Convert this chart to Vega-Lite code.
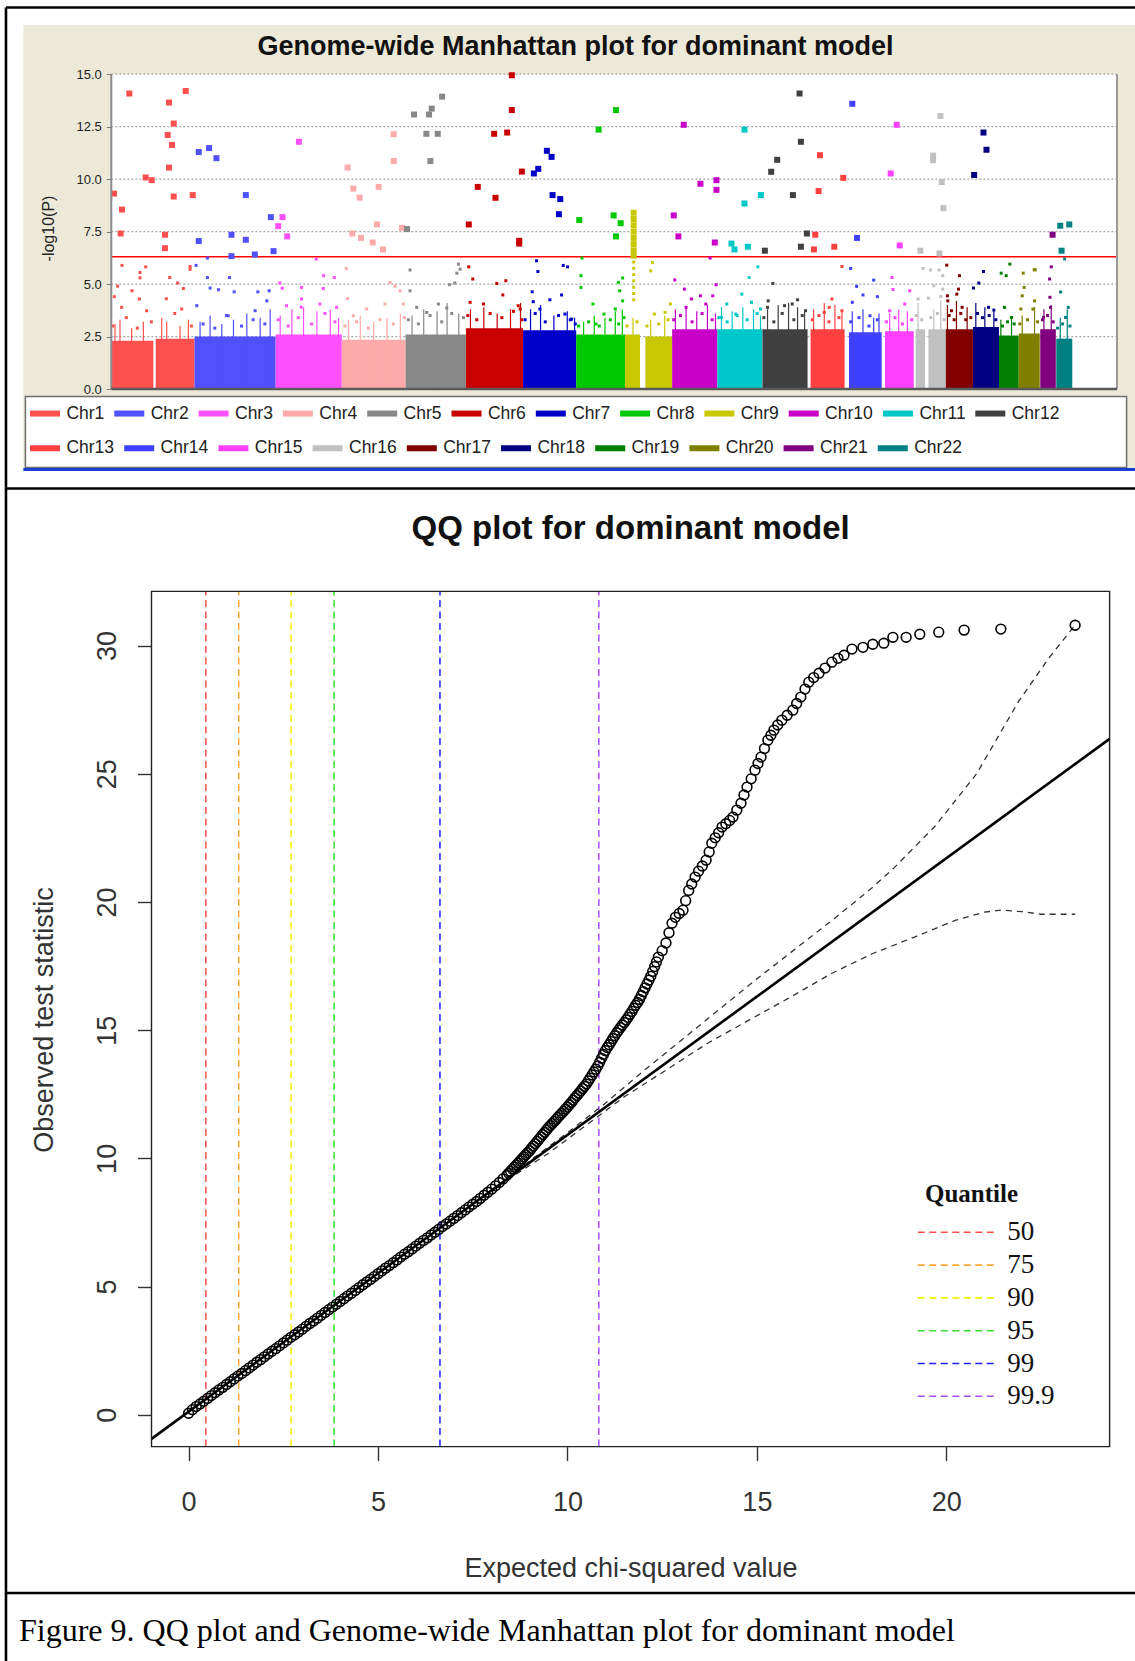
{
"$schema": "https://vega.github.io/schema/vega-lite/v6.json",
"width": 1135,
"height": 1661,
"autosize": {"type": "none"},
"padding": 0,
"background": "#FFFFFF",
"config": {"view": {"stroke": null}},
"resolve": {"scale": {"x": "independent", "y": "independent", "color": "independent"}, "axis": {"x": "independent", "y": "independent"}, "legend": {"color": "independent"}},
"datasets": {
"seg": [
{"chr":"Chr1","s":0,"e":126,"h":2.3},{"chr":"Chr1","s":133,"e":249.3,"h":2.4},
{"chr":"Chr2","s":249.3,"e":492.4,"h":2.5},{"chr":"Chr3","s":492.4,"e":690.4,"h":2.6},
{"chr":"Chr4","s":690.4,"e":881.6,"h":2.35},{"chr":"Chr5","s":881.6,"e":1062.5,"h":2.6},
{"chr":"Chr6","s":1062.5,"e":1233.6,"h":2.9},{"chr":"Chr7","s":1233.6,"e":1392.8,"h":2.8},
{"chr":"Chr8","s":1392.8,"e":1539.1,"h":2.6},{"chr":"Chr9","s":1539.1,"e":1584,"h":2.6},
{"chr":"Chr9","s":1600,"e":1680.3,"h":2.5},{"chr":"Chr10","s":1680.3,"e":1815.8,"h":2.85},
{"chr":"Chr11","s":1815.8,"e":1950.8,"h":2.85},{"chr":"Chr12","s":1950.8,"e":2086,"h":2.85},
{"chr":"Chr13","s":2095,"e":2197,"h":2.85},{"chr":"Chr14","s":2210,"e":2308,"h":2.7},
{"chr":"Chr15","s":2318,"e":2404,"h":2.75},{"chr":"Chr16","s":2409.8,"e":2438,"h":2.85},
{"chr":"Chr16","s":2448,"e":2500.2,"h":2.85},{"chr":"Chr17","s":2500.2,"e":2581.4,"h":2.85},
{"chr":"Chr18","s":2581.4,"e":2659.5,"h":2.95},{"chr":"Chr19","s":2659.5,"e":2718.6,"h":2.55},
{"chr":"Chr20","s":2718.6,"e":2781.6,"h":2.65},{"chr":"Chr21","s":2783,"e":2829.7,"h":2.85},
{"chr":"Chr22","s":2831,"e":2879,"h":2.4}
],
"spk": [
{"chr":"Chr1","pos":11,"top":3.1},{"chr":"Chr1","pos":26,"top":3.3},{"chr":"Chr1","pos":61,"top":2.9},{"chr":"Chr1","pos":96,"top":3.2},{"chr":"Chr1","pos":151,"top":3.4},{"chr":"Chr1","pos":166,"top":3.2},{"chr":"Chr1","pos":206,"top":3.0},{"chr":"Chr1","pos":231,"top":3.3},
{"chr":"Chr2","pos":266,"top":3.2},{"chr":"Chr2","pos":296,"top":3.5},{"chr":"Chr2","pos":331,"top":3.1},{"chr":"Chr2","pos":366,"top":3.3},{"chr":"Chr2","pos":406,"top":3.6},{"chr":"Chr2","pos":446,"top":3.4},{"chr":"Chr2","pos":476,"top":3.8},
{"chr":"Chr3","pos":506,"top":3.5},{"chr":"Chr3","pos":541,"top":3.8},{"chr":"Chr3","pos":576,"top":3.9},{"chr":"Chr3","pos":616,"top":3.7},{"chr":"Chr3","pos":656,"top":3.8},{"chr":"Chr3","pos":681,"top":3.4},
{"chr":"Chr4","pos":711,"top":3.3},{"chr":"Chr4","pos":746,"top":3.5},{"chr":"Chr4","pos":786,"top":3.2},{"chr":"Chr4","pos":826,"top":3.4},{"chr":"Chr4","pos":866,"top":3.6},
{"chr":"Chr5","pos":901,"top":3.5},{"chr":"Chr5","pos":936,"top":3.8},{"chr":"Chr5","pos":976,"top":3.7},{"chr":"Chr5","pos":1006,"top":4.1},{"chr":"Chr5","pos":1041,"top":3.6},
{"chr":"Chr6","pos":1076,"top":3.8},{"chr":"Chr6","pos":1116,"top":3.9},{"chr":"Chr6","pos":1156,"top":3.6},{"chr":"Chr6","pos":1196,"top":3.8},{"chr":"Chr6","pos":1226,"top":4.1},
{"chr":"Chr7","pos":1256,"top":3.8},{"chr":"Chr7","pos":1286,"top":4.0},{"chr":"Chr7","pos":1326,"top":3.5},{"chr":"Chr7","pos":1366,"top":3.7},{"chr":"Chr7","pos":1388,"top":3.4},
{"chr":"Chr8","pos":1415,"top":3.2},{"chr":"Chr8","pos":1447,"top":3.5},{"chr":"Chr8","pos":1479,"top":3.4},{"chr":"Chr8","pos":1510,"top":3.7},{"chr":"Chr8","pos":1531,"top":3.8},
{"chr":"Chr9","pos":1563,"top":3.4},{"chr":"Chr9","pos":1616,"top":3.3},{"chr":"Chr9","pos":1658,"top":3.5},
{"chr":"Chr10","pos":1690,"top":3.8},{"chr":"Chr10","pos":1722,"top":3.9},{"chr":"Chr10","pos":1754,"top":3.7},{"chr":"Chr10","pos":1786,"top":4.0},{"chr":"Chr10","pos":1810,"top":3.6},
{"chr":"Chr11","pos":1828,"top":3.9},{"chr":"Chr11","pos":1860,"top":3.7},{"chr":"Chr11","pos":1892,"top":3.9},{"chr":"Chr11","pos":1924,"top":3.8},{"chr":"Chr11","pos":1945,"top":3.5},
{"chr":"Chr12","pos":1966,"top":3.8},{"chr":"Chr12","pos":1998,"top":4.0},{"chr":"Chr12","pos":2029,"top":4.1},{"chr":"Chr12","pos":2056,"top":3.9},{"chr":"Chr12","pos":2077,"top":3.7},
{"chr":"Chr13","pos":2104,"top":3.8},{"chr":"Chr13","pos":2136,"top":4.1},{"chr":"Chr13","pos":2168,"top":4.0},{"chr":"Chr13","pos":2189,"top":3.7},
{"chr":"Chr14","pos":2220,"top":3.7},{"chr":"Chr14","pos":2252,"top":3.8},{"chr":"Chr14","pos":2284,"top":3.4},{"chr":"Chr14","pos":2300,"top":3.6},
{"chr":"Chr15","pos":2332,"top":3.6},{"chr":"Chr15","pos":2359,"top":3.8},{"chr":"Chr15","pos":2385,"top":3.7},
{"chr":"Chr16","pos":2417,"top":4.1},{"chr":"Chr16","pos":2464,"top":3.8},{"chr":"Chr16","pos":2485,"top":4.2},
{"chr":"Chr17","pos":2505,"top":4.0},{"chr":"Chr17","pos":2532,"top":4.2},{"chr":"Chr17","pos":2564,"top":3.9},
{"chr":"Chr18","pos":2590,"top":4.1},{"chr":"Chr18","pos":2617,"top":3.9},{"chr":"Chr18","pos":2644,"top":3.7},
{"chr":"Chr19","pos":2665,"top":3.3},{"chr":"Chr19","pos":2697,"top":3.4},
{"chr":"Chr20","pos":2729,"top":3.5},{"chr":"Chr20","pos":2766,"top":3.9},
{"chr":"Chr21","pos":2794,"top":3.8},{"chr":"Chr21","pos":2816,"top":4.0},
{"chr":"Chr22","pos":2843,"top":3.4},{"chr":"Chr22","pos":2864,"top":3.8}
],
"snp": [
{"chr":"Chr1","pos":8,"p":9.31},{"chr":"Chr1","pos":54,"p":14.08},{"chr":"Chr1","pos":32,"p":8.55},{"chr":"Chr1","pos":28,"p":7.41},{"chr":"Chr1","pos":103,"p":10.08},{"chr":"Chr1","pos":121,"p":9.95},{"chr":"Chr1","pos":173,"p":13.65},{"chr":"Chr1","pos":187,"p":12.65},{"chr":"Chr1","pos":169,"p":12.1},{"chr":"Chr1","pos":182,"p":11.63},{"chr":"Chr1","pos":173,"p":10.55},{"chr":"Chr1","pos":223,"p":14.2},{"chr":"Chr1","pos":187,"p":9.17},{"chr":"Chr1","pos":244,"p":9.24},{"chr":"Chr1","pos":161,"p":7.35},{"chr":"Chr1","pos":161,"p":6.71},
{"chr":"Chr2","pos":262,"p":11.29},{"chr":"Chr2","pos":293,"p":11.48},{"chr":"Chr2","pos":315,"p":11.0},{"chr":"Chr2","pos":262,"p":7.05},{"chr":"Chr2","pos":288,"p":6.24},{"chr":"Chr2","pos":360,"p":7.35},{"chr":"Chr2","pos":360,"p":6.33},{"chr":"Chr2","pos":403,"p":9.24},{"chr":"Chr2","pos":403,"p":7.11},{"chr":"Chr2","pos":430,"p":6.41},{"chr":"Chr2","pos":478,"p":8.19},{"chr":"Chr2","pos":486,"p":6.57},
{"chr":"Chr3","pos":562,"p":11.78},{"chr":"Chr3","pos":513,"p":8.19},{"chr":"Chr3","pos":500,"p":7.76},{"chr":"Chr3","pos":527,"p":7.27},{"chr":"Chr3","pos":614,"p":6.19},
{"chr":"Chr4","pos":708,"p":10.55},{"chr":"Chr4","pos":725,"p":9.55},{"chr":"Chr4","pos":744,"p":9.12},{"chr":"Chr4","pos":801,"p":9.63},{"chr":"Chr4","pos":846,"p":12.14},{"chr":"Chr4","pos":846,"p":10.86},{"chr":"Chr4","pos":722,"p":7.41},{"chr":"Chr4","pos":748,"p":7.2},{"chr":"Chr4","pos":783,"p":6.98},{"chr":"Chr4","pos":814,"p":6.65},{"chr":"Chr4","pos":796,"p":7.84},{"chr":"Chr4","pos":871,"p":7.68},
{"chr":"Chr5","pos":886,"p":7.62},{"chr":"Chr5","pos":907,"p":13.08},{"chr":"Chr5","pos":952,"p":13.08},{"chr":"Chr5","pos":960,"p":13.36},{"chr":"Chr5","pos":944,"p":12.16},{"chr":"Chr5","pos":978,"p":12.16},{"chr":"Chr5","pos":956,"p":10.86},{"chr":"Chr5","pos":991,"p":13.93},
{"chr":"Chr6","pos":1200,"p":14.95},{"chr":"Chr6","pos":1200,"p":13.29},{"chr":"Chr6","pos":1147,"p":12.16},{"chr":"Chr6","pos":1186,"p":12.22},{"chr":"Chr6","pos":1230,"p":10.36},{"chr":"Chr6","pos":1098,"p":9.63},{"chr":"Chr6","pos":1151,"p":9.11},{"chr":"Chr6","pos":1071,"p":7.84},{"chr":"Chr6","pos":1222,"p":7.06},{"chr":"Chr6","pos":1222,"p":6.93},
{"chr":"Chr7","pos":1266,"p":10.27},{"chr":"Chr7","pos":1279,"p":10.49},{"chr":"Chr7","pos":1305,"p":11.35},{"chr":"Chr7","pos":1319,"p":11.06},{"chr":"Chr7","pos":1322,"p":9.24},{"chr":"Chr7","pos":1345,"p":9.05},{"chr":"Chr7","pos":1341,"p":8.33},
{"chr":"Chr8","pos":1402,"p":8.05},{"chr":"Chr8","pos":1410,"p":6.24},{"chr":"Chr8","pos":1460,"p":12.36},{"chr":"Chr8","pos":1512,"p":13.29},{"chr":"Chr8","pos":1505,"p":8.27},{"chr":"Chr8","pos":1526,"p":7.9},{"chr":"Chr8","pos":1512,"p":7.27},
{"chr":"Chr9","pos":1565,"p":8.4},{"chr":"Chr9","pos":1565,"p":8.1},{"chr":"Chr9","pos":1565,"p":7.8},{"chr":"Chr9","pos":1565,"p":7.5},{"chr":"Chr9","pos":1565,"p":7.2},{"chr":"Chr9","pos":1565,"p":6.9},{"chr":"Chr9","pos":1565,"p":6.6},{"chr":"Chr9","pos":1565,"p":6.35},
{"chr":"Chr10","pos":1715,"p":12.59},{"chr":"Chr10","pos":1765,"p":9.78},{"chr":"Chr10","pos":1813,"p":9.95},{"chr":"Chr10","pos":1813,"p":9.49},{"chr":"Chr10","pos":1685,"p":8.27},{"chr":"Chr10","pos":1699,"p":7.27},{"chr":"Chr10","pos":1808,"p":6.98},
{"chr":"Chr11","pos":1897,"p":12.36},{"chr":"Chr11","pos":1897,"p":8.84},{"chr":"Chr11","pos":1946,"p":9.24},{"chr":"Chr11","pos":1858,"p":6.93},{"chr":"Chr11","pos":1867,"p":6.65},{"chr":"Chr11","pos":1907,"p":6.78},
{"chr":"Chr12","pos":2062,"p":14.08},{"chr":"Chr12","pos":2066,"p":11.78},{"chr":"Chr12","pos":1995,"p":10.92},{"chr":"Chr12","pos":1977,"p":10.35},{"chr":"Chr12","pos":2042,"p":9.24},{"chr":"Chr12","pos":2084,"p":7.41},{"chr":"Chr12","pos":2066,"p":6.78},{"chr":"Chr12","pos":1958,"p":6.59},
{"chr":"Chr13","pos":2123,"p":11.14},{"chr":"Chr13","pos":2193,"p":10.06},{"chr":"Chr13","pos":2119,"p":9.43},{"chr":"Chr13","pos":2109,"p":7.35},{"chr":"Chr13","pos":2105,"p":6.65},{"chr":"Chr13","pos":2166,"p":6.78},
{"chr":"Chr14","pos":2220,"p":13.59},{"chr":"Chr14","pos":2234,"p":7.2},
{"chr":"Chr15","pos":2353,"p":12.59},{"chr":"Chr15","pos":2335,"p":10.27},{"chr":"Chr15","pos":2362,"p":6.84},
{"chr":"Chr16","pos":2484,"p":13.01},{"chr":"Chr16","pos":2462,"p":11.12},{"chr":"Chr16","pos":2462,"p":10.9},{"chr":"Chr16","pos":2488,"p":9.86},{"chr":"Chr16","pos":2493,"p":8.62},{"chr":"Chr16","pos":2424,"p":6.59},{"chr":"Chr16","pos":2481,"p":6.46},
{"chr":"Chr18","pos":2613,"p":12.22},{"chr":"Chr18","pos":2622,"p":11.4},{"chr":"Chr18","pos":2585,"p":10.2},
{"chr":"Chr21","pos":2820,"p":7.35},
{"chr":"Chr22","pos":2843,"p":7.78},{"chr":"Chr22","pos":2870,"p":7.84},{"chr":"Chr22","pos":2847,"p":6.59},
{"chr":"Chr1","pos":32,"p":5.89},{"chr":"Chr1","pos":103,"p":5.82},{"chr":"Chr1","pos":86,"p":5.55},{"chr":"Chr1","pos":86,"p":5.3},{"chr":"Chr1","pos":9,"p":4.4},{"chr":"Chr1","pos":19,"p":4.9},{"chr":"Chr1","pos":62,"p":4.68},{"chr":"Chr1","pos":84,"p":4.29},{"chr":"Chr1","pos":175,"p":5.31},{"chr":"Chr1","pos":199,"p":5.05},{"chr":"Chr1","pos":236,"p":5.84},{"chr":"Chr1","pos":236,"p":5.7},{"chr":"Chr1","pos":216,"p":4.79},{"chr":"Chr1","pos":165,"p":4.3},{"chr":"Chr1","pos":31,"p":3.89},{"chr":"Chr1","pos":106,"p":3.73},{"chr":"Chr1","pos":211,"p":3.81},
{"chr":"Chr2","pos":254,"p":5.89},{"chr":"Chr2","pos":288,"p":5.31},{"chr":"Chr2","pos":296,"p":4.81},{"chr":"Chr2","pos":321,"p":4.73},{"chr":"Chr2","pos":354,"p":5.31},{"chr":"Chr2","pos":368,"p":4.63},{"chr":"Chr2","pos":439,"p":4.63},{"chr":"Chr2","pos":473,"p":4.68},{"chr":"Chr2","pos":466,"p":4.2},{"chr":"Chr2","pos":431,"p":3.73},{"chr":"Chr2","pos":350,"p":3.49},{"chr":"Chr2","pos":256,"p":3.97},
{"chr":"Chr3","pos":505,"p":5.05},{"chr":"Chr3","pos":512,"p":4.8},{"chr":"Chr3","pos":570,"p":4.84},{"chr":"Chr3","pos":570,"p":4.29},{"chr":"Chr3","pos":636,"p":5.4},{"chr":"Chr3","pos":668,"p":5.31},{"chr":"Chr3","pos":635,"p":4.79},{"chr":"Chr3","pos":569,"p":3.9},{"chr":"Chr3","pos":625,"p":4.05},{"chr":"Chr3","pos":675,"p":3.89},{"chr":"Chr3","pos":525,"p":3.97},
{"chr":"Chr4","pos":704,"p":5.74},{"chr":"Chr4","pos":708,"p":4.31},{"chr":"Chr4","pos":835,"p":5.08},{"chr":"Chr4","pos":850,"p":4.9},{"chr":"Chr4","pos":865,"p":4.68},{"chr":"Chr4","pos":725,"p":3.49},{"chr":"Chr4","pos":765,"p":3.81},{"chr":"Chr4","pos":820,"p":4.05},{"chr":"Chr4","pos":875,"p":4.05},
{"chr":"Chr5","pos":895,"p":5.67},{"chr":"Chr5","pos":895,"p":4.68},{"chr":"Chr5","pos":1040,"p":5.95},{"chr":"Chr5","pos":1045,"p":5.71},{"chr":"Chr5","pos":1035,"p":5.52},{"chr":"Chr5","pos":1029,"p":5.05},{"chr":"Chr5","pos":1013,"p":4.97},{"chr":"Chr5","pos":915,"p":3.89},{"chr":"Chr5","pos":980,"p":4.05},{"chr":"Chr5","pos":1005,"p":3.86},{"chr":"Chr5","pos":945,"p":3.65},
{"chr":"Chr6","pos":1071,"p":5.82},{"chr":"Chr6","pos":1083,"p":5.24},{"chr":"Chr6","pos":1155,"p":5.03},{"chr":"Chr6","pos":1182,"p":5.16},{"chr":"Chr6","pos":1173,"p":4.48},{"chr":"Chr6","pos":1075,"p":4.13},{"chr":"Chr6","pos":1115,"p":4.05},{"chr":"Chr6","pos":1219,"p":3.97},{"chr":"Chr6","pos":1225,"p":3.81},
{"chr":"Chr7","pos":1274,"p":6.11},{"chr":"Chr7","pos":1278,"p":5.6},{"chr":"Chr7","pos":1354,"p":5.89},{"chr":"Chr7","pos":1367,"p":5.82},{"chr":"Chr7","pos":1261,"p":4.63},{"chr":"Chr7","pos":1314,"p":4.25},{"chr":"Chr7","pos":1349,"p":4.48},{"chr":"Chr7","pos":1264,"p":4.16},{"chr":"Chr7","pos":1284,"p":3.81},{"chr":"Chr7","pos":1359,"p":3.57},{"chr":"Chr7","pos":1379,"p":3.33},
{"chr":"Chr8","pos":1407,"p":5.4},{"chr":"Chr8","pos":1407,"p":4.84},{"chr":"Chr8","pos":1443,"p":4.05},{"chr":"Chr8","pos":1476,"p":3.57},{"chr":"Chr8","pos":1519,"p":5.08},{"chr":"Chr8","pos":1532,"p":5.29},{"chr":"Chr8","pos":1523,"p":4.68},{"chr":"Chr8","pos":1510,"p":3.81},{"chr":"Chr8","pos":1532,"p":4.2},{"chr":"Chr8","pos":1452,"p":3.1},
{"chr":"Chr9","pos":1565,"p":6.05},{"chr":"Chr9","pos":1565,"p":5.75},{"chr":"Chr9","pos":1565,"p":5.45},{"chr":"Chr9","pos":1565,"p":5.15},{"chr":"Chr9","pos":1565,"p":4.85},{"chr":"Chr9","pos":1565,"p":4.55},{"chr":"Chr9","pos":1565,"p":4.25},{"chr":"Chr9","pos":1621,"p":6.03},{"chr":"Chr9","pos":1616,"p":5.63},{"chr":"Chr9","pos":1627,"p":3.57},{"chr":"Chr9","pos":1659,"p":3.65},{"chr":"Chr9","pos":1675,"p":4.05},
{"chr":"Chr10","pos":1688,"p":5.2},{"chr":"Chr10","pos":1717,"p":4.76},{"chr":"Chr10","pos":1738,"p":4.29},{"chr":"Chr10","pos":1765,"p":4.44},{"chr":"Chr10","pos":1802,"p":4.44},{"chr":"Chr10","pos":1812,"p":4.97},{"chr":"Chr10","pos":1794,"p":6.24},{"chr":"Chr10","pos":1722,"p":3.89},{"chr":"Chr10","pos":1781,"p":4.05},
{"chr":"Chr11","pos":1937,"p":5.82},{"chr":"Chr11","pos":1911,"p":5.31},{"chr":"Chr11","pos":1889,"p":4.52},{"chr":"Chr11","pos":1918,"p":4.13},{"chr":"Chr11","pos":1844,"p":4.05},{"chr":"Chr11","pos":1828,"p":3.41},{"chr":"Chr11","pos":1945,"p":3.81},{"chr":"Chr11","pos":1871,"p":3.57},
{"chr":"Chr12","pos":1982,"p":5.03},{"chr":"Chr12","pos":1968,"p":4.2},{"chr":"Chr12","pos":1966,"p":3.89},{"chr":"Chr12","pos":2017,"p":3.97},{"chr":"Chr12","pos":2040,"p":4.05},{"chr":"Chr12","pos":2056,"p":4.25},{"chr":"Chr12","pos":2080,"p":3.73},
{"chr":"Chr13","pos":2189,"p":5.84},{"chr":"Chr13","pos":2159,"p":4.29},{"chr":"Chr13","pos":2151,"p":3.89},{"chr":"Chr13","pos":2136,"p":3.65},{"chr":"Chr13","pos":2189,"p":3.73},
{"chr":"Chr14","pos":2215,"p":5.74},{"chr":"Chr14","pos":2233,"p":4.89},{"chr":"Chr14","pos":2252,"p":4.48},{"chr":"Chr14","pos":2284,"p":5.19},{"chr":"Chr14","pos":2295,"p":4.4},{"chr":"Chr14","pos":2220,"p":4.13},{"chr":"Chr14","pos":2273,"p":3.49},
{"chr":"Chr15","pos":2339,"p":5.31},{"chr":"Chr15","pos":2342,"p":4.74},{"chr":"Chr15","pos":2392,"p":4.68},{"chr":"Chr15","pos":2377,"p":4.05},{"chr":"Chr15","pos":2332,"p":3.73},
{"chr":"Chr16","pos":2432,"p":5.74},{"chr":"Chr16","pos":2454,"p":5.67},{"chr":"Chr16","pos":2480,"p":5.67},{"chr":"Chr16","pos":2491,"p":5.4},{"chr":"Chr16","pos":2464,"p":4.92},{"chr":"Chr16","pos":2491,"p":4.76},{"chr":"Chr16","pos":2417,"p":4.29},{"chr":"Chr16","pos":2485,"p":4.4},{"chr":"Chr16","pos":2448,"p":4.33},
{"chr":"Chr17","pos":2503,"p":5.9},{"chr":"Chr17","pos":2541,"p":5.4},{"chr":"Chr17","pos":2538,"p":4.76},{"chr":"Chr17","pos":2533,"p":4.52},{"chr":"Chr17","pos":2505,"p":4.44},{"chr":"Chr17","pos":2506,"p":4.2},{"chr":"Chr17","pos":2549,"p":3.89},{"chr":"Chr17","pos":2517,"p":3.73},
{"chr":"Chr18","pos":2613,"p":5.6},{"chr":"Chr18","pos":2599,"p":5.05},{"chr":"Chr18","pos":2583,"p":4.81},{"chr":"Chr18","pos":2644,"p":3.76},{"chr":"Chr18","pos":2628,"p":3.89},
{"chr":"Chr19","pos":2692,"p":5.95},{"chr":"Chr19","pos":2666,"p":5.52},{"chr":"Chr19","pos":2681,"p":5.4},{"chr":"Chr19","pos":2676,"p":3.89},{"chr":"Chr19","pos":2697,"p":3.41},
{"chr":"Chr20","pos":2768,"p":5.68},{"chr":"Chr20","pos":2765,"p":5.68},{"chr":"Chr20","pos":2732,"p":5.52},{"chr":"Chr20","pos":2735,"p":4.84},{"chr":"Chr20","pos":2729,"p":4.44},{"chr":"Chr20","pos":2766,"p":4.2},{"chr":"Chr20","pos":2761,"p":3.81},{"chr":"Chr20","pos":2725,"p":3.81},
{"chr":"Chr21","pos":2816,"p":5.82},{"chr":"Chr21","pos":2811,"p":5.24},{"chr":"Chr21","pos":2812,"p":4.37},{"chr":"Chr21","pos":2814,"p":3.89},{"chr":"Chr21","pos":2793,"p":3.41},
{"chr":"Chr22","pos":2844,"p":4.62},{"chr":"Chr22","pos":2867,"p":3.89},{"chr":"Chr22","pos":2859,"p":3.41},{"chr":"Chr22","pos":2856,"p":6.2},
{"chr":"Chr1","pos":5,"p":3.0},{"chr":"Chr1","pos":45,"p":3.4},{"chr":"Chr1","pos":78,"p":2.9},{"chr":"Chr1","pos":120,"p":3.2},{"chr":"Chr1","pos":190,"p":3.6},{"chr":"Chr1","pos":240,"p":3.0},
{"chr":"Chr2","pos":275,"p":3.1},{"chr":"Chr2","pos":310,"p":2.9},{"chr":"Chr2","pos":345,"p":3.5},{"chr":"Chr2","pos":390,"p":3.0},{"chr":"Chr2","pos":425,"p":3.3},{"chr":"Chr2","pos":460,"p":3.1},
{"chr":"Chr3","pos":500,"p":3.3},{"chr":"Chr3","pos":530,"p":3.0},{"chr":"Chr3","pos":560,"p":3.4},{"chr":"Chr3","pos":600,"p":3.1},{"chr":"Chr3","pos":640,"p":3.6},{"chr":"Chr3","pos":670,"p":3.2},
{"chr":"Chr4","pos":700,"p":3.0},{"chr":"Chr4","pos":735,"p":3.2},{"chr":"Chr4","pos":770,"p":2.9},{"chr":"Chr4","pos":805,"p":3.3},{"chr":"Chr4","pos":845,"p":3.1},{"chr":"Chr4","pos":878,"p":3.4},
{"chr":"Chr5","pos":890,"p":3.3},{"chr":"Chr5","pos":920,"p":3.1},{"chr":"Chr5","pos":955,"p":3.5},{"chr":"Chr5","pos":990,"p":3.2},{"chr":"Chr5","pos":1020,"p":3.6},{"chr":"Chr5","pos":1055,"p":3.4},
{"chr":"Chr6","pos":1068,"p":3.5},{"chr":"Chr6","pos":1095,"p":3.3},{"chr":"Chr6","pos":1135,"p":3.6},{"chr":"Chr6","pos":1170,"p":3.4},{"chr":"Chr6","pos":1205,"p":3.7},{"chr":"Chr6","pos":1230,"p":3.3},
{"chr":"Chr7","pos":1240,"p":3.3},{"chr":"Chr7","pos":1270,"p":3.6},{"chr":"Chr7","pos":1300,"p":3.2},{"chr":"Chr7","pos":1340,"p":3.5},{"chr":"Chr7","pos":1375,"p":3.3},{"chr":"Chr7","pos":1390,"p":3.1},
{"chr":"Chr8","pos":1400,"p":3.0},{"chr":"Chr8","pos":1430,"p":3.2},{"chr":"Chr8","pos":1462,"p":3.0},{"chr":"Chr8","pos":1495,"p":3.3},{"chr":"Chr8","pos":1520,"p":3.1},{"chr":"Chr8","pos":1536,"p":3.4},
{"chr":"Chr9","pos":1545,"p":3.0},{"chr":"Chr9","pos":1575,"p":3.2},{"chr":"Chr9","pos":1605,"p":3.0},{"chr":"Chr9","pos":1640,"p":3.1},{"chr":"Chr9","pos":1668,"p":3.3},
{"chr":"Chr10","pos":1685,"p":3.3},{"chr":"Chr10","pos":1705,"p":3.5},{"chr":"Chr10","pos":1740,"p":3.2},{"chr":"Chr10","pos":1770,"p":3.6},{"chr":"Chr10","pos":1800,"p":3.3},
{"chr":"Chr11","pos":1820,"p":3.4},{"chr":"Chr11","pos":1845,"p":3.2},{"chr":"Chr11","pos":1875,"p":3.5},{"chr":"Chr11","pos":1905,"p":3.3},{"chr":"Chr11","pos":1935,"p":3.6},
{"chr":"Chr12","pos":1955,"p":3.4},{"chr":"Chr12","pos":1985,"p":3.2},{"chr":"Chr12","pos":2010,"p":3.6},{"chr":"Chr12","pos":2045,"p":3.3},{"chr":"Chr12","pos":2070,"p":3.5},
{"chr":"Chr13","pos":2100,"p":3.3},{"chr":"Chr13","pos":2120,"p":3.5},{"chr":"Chr13","pos":2150,"p":3.2},{"chr":"Chr13","pos":2180,"p":3.4},
{"chr":"Chr14","pos":2215,"p":3.2},{"chr":"Chr14","pos":2240,"p":3.4},{"chr":"Chr14","pos":2270,"p":3.0},{"chr":"Chr14","pos":2295,"p":3.3},
{"chr":"Chr15","pos":2322,"p":3.2},{"chr":"Chr15","pos":2348,"p":3.4},{"chr":"Chr15","pos":2370,"p":3.1},{"chr":"Chr15","pos":2398,"p":3.3},
{"chr":"Chr16","pos":2412,"p":3.5},{"chr":"Chr16","pos":2428,"p":3.3},{"chr":"Chr16","pos":2455,"p":3.4},{"chr":"Chr16","pos":2475,"p":3.6},{"chr":"Chr16","pos":2495,"p":3.3},
{"chr":"Chr17","pos":2510,"p":3.5},{"chr":"Chr17","pos":2525,"p":3.3},{"chr":"Chr17","pos":2545,"p":3.6},{"chr":"Chr17","pos":2560,"p":3.3},{"chr":"Chr17","pos":2575,"p":3.4},
{"chr":"Chr18","pos":2595,"p":3.6},{"chr":"Chr18","pos":2610,"p":3.4},{"chr":"Chr18","pos":2630,"p":3.5},{"chr":"Chr18","pos":2650,"p":3.3},
{"chr":"Chr19","pos":2670,"p":3.0},{"chr":"Chr19","pos":2685,"p":3.2},{"chr":"Chr19","pos":2705,"p":3.1},
{"chr":"Chr20","pos":2722,"p":3.1},{"chr":"Chr20","pos":2745,"p":3.3},{"chr":"Chr20","pos":2775,"p":3.2},
{"chr":"Chr21","pos":2790,"p":3.3},{"chr":"Chr21","pos":2805,"p":3.5},{"chr":"Chr21","pos":2822,"p":3.2},
{"chr":"Chr22","pos":2835,"p":2.9},{"chr":"Chr22","pos":2850,"p":3.1},{"chr":"Chr22","pos":2872,"p":3.0}
],
"mgrid": [{"g":2.5},{"g":5},{"g":7.5},{"g":10},{"g":12.5},{"g":15}],
"qtl": [{"q":"50","v":0.455},{"q":"75","v":1.323},{"q":"90","v":2.706},{"q":"95","v":3.841},{"q":"99","v":6.635},{"q":"99.9","v":10.828}],
"fit": [{"e":-0.979,"f":-0.937},{"e":24.31,"f":26.36}],
"env": [
{"b":"upper","e":8.4,"c":9.2},{"b":"upper","e":9,"c":9.9},{"b":"upper","e":10,"c":11.0},{"b":"upper","e":11,"c":12.15},{"b":"upper","e":12,"c":13.4},{"b":"upper","e":13,"c":14.6},{"b":"upper","e":14,"c":15.8},{"b":"upper","e":15,"c":17.0},{"b":"upper","e":16,"c":18.15},{"b":"upper","e":17,"c":19.3},{"b":"upper","e":18,"c":20.5},{"b":"upper","e":18.6,"c":21.3},{"b":"upper","e":19.7,"c":22.95},{"b":"upper","e":20.8,"c":25.0},{"b":"upper","e":21.9,"c":27.8},{"b":"upper","e":22.7,"c":29.5},{"b":"upper","e":23.4,"c":30.8},
{"b":"lower","e":8.4,"c":9.15},{"b":"lower","e":9.5,"c":10.2},{"b":"lower","e":10.5,"c":11.3},{"b":"lower","e":11.5,"c":12.4},{"b":"lower","e":12.6,"c":13.44},{"b":"lower","e":13.7,"c":14.49},{"b":"lower","e":14.79,"c":15.39},{"b":"lower","e":15.89,"c":16.29},{"b":"lower","e":16.98,"c":17.22},{"b":"lower","e":18.06,"c":17.99},{"b":"lower","e":19.16,"c":18.63},{"b":"lower","e":20.25,"c":19.29},{"b":"lower","e":21.0,"c":19.6},{"b":"lower","e":21.46,"c":19.68},{"b":"lower","e":22.0,"c":19.62},{"b":"lower","e":22.5,"c":19.52},{"b":"lower","e":23.4,"c":19.52}
],
"obs": [
{"e":0,"o":0.06},{"e":0.1,"o":0.2},{"e":0.2,"o":0.32},{"e":0.3,"o":0.42},{"e":0.4,"o":0.53},{"e":0.5,"o":0.64},{"e":0.6,"o":0.75},{"e":0.7,"o":0.86},{"e":0.8,"o":0.97},{"e":0.9,"o":1.07},
{"e":1.0,"o":1.18},{"e":1.1,"o":1.29},{"e":1.2,"o":1.4},{"e":1.3,"o":1.51},{"e":1.4,"o":1.61},{"e":1.5,"o":1.72},{"e":1.6,"o":1.83},{"e":1.7,"o":1.94},{"e":1.8,"o":2.05},{"e":1.9,"o":2.15},
{"e":2.0,"o":2.26},{"e":2.1,"o":2.37},{"e":2.2,"o":2.48},{"e":2.3,"o":2.58},{"e":2.4,"o":2.69},{"e":2.5,"o":2.8},{"e":2.6,"o":2.91},{"e":2.7,"o":3.02},{"e":2.8,"o":3.12},{"e":2.9,"o":3.23},
{"e":3.0,"o":3.34},{"e":3.1,"o":3.45},{"e":3.2,"o":3.56},{"e":3.3,"o":3.66},{"e":3.4,"o":3.77},{"e":3.5,"o":3.88},{"e":3.6,"o":3.99},{"e":3.7,"o":4.1},{"e":3.8,"o":4.2},{"e":3.9,"o":4.31},
{"e":4.0,"o":4.42},{"e":4.1,"o":4.53},{"e":4.2,"o":4.64},{"e":4.3,"o":4.74},{"e":4.4,"o":4.85},{"e":4.5,"o":4.96},{"e":4.6,"o":5.07},{"e":4.7,"o":5.18},{"e":4.8,"o":5.28},{"e":4.9,"o":5.39},
{"e":5.0,"o":5.5},{"e":5.1,"o":5.61},{"e":5.2,"o":5.72},{"e":5.3,"o":5.82},{"e":5.4,"o":5.93},{"e":5.5,"o":6.04},{"e":5.6,"o":6.15},{"e":5.7,"o":6.26},{"e":5.8,"o":6.36},{"e":5.9,"o":6.47},
{"e":6.0,"o":6.58},{"e":6.1,"o":6.69},{"e":6.2,"o":6.8},{"e":6.3,"o":6.9},{"e":6.4,"o":7.01},{"e":6.5,"o":7.12},{"e":6.6,"o":7.23},{"e":6.7,"o":7.34},{"e":6.8,"o":7.44},{"e":6.9,"o":7.55},
{"e":7.0,"o":7.66},{"e":7.1,"o":7.77},{"e":7.2,"o":7.88},{"e":7.3,"o":7.99},{"e":7.4,"o":8.1},{"e":7.5,"o":8.21},{"e":7.6,"o":8.32},{"e":7.7,"o":8.44},{"e":7.8,"o":8.56},{"e":7.9,"o":8.68},
{"e":8.0,"o":8.8},{"e":8.1,"o":8.93},{"e":8.2,"o":9.06},{"e":8.3,"o":9.2},{"e":8.4,"o":9.34},{"e":8.45,"o":9.42},{"e":8.5,"o":9.5},{"e":8.55,"o":9.58},{"e":8.6,"o":9.66},{"e":8.65,"o":9.74},
{"e":8.7,"o":9.82},{"e":8.75,"o":9.9},{"e":8.8,"o":9.98},{"e":8.85,"o":10.06},{"e":8.9,"o":10.14},{"e":8.95,"o":10.22},{"e":9.0,"o":10.3},{"e":9.05,"o":10.39},{"e":9.1,"o":10.48},{"e":9.15,"o":10.57},
{"e":9.2,"o":10.66},{"e":9.25,"o":10.75},{"e":9.3,"o":10.84},{"e":9.35,"o":10.93},{"e":9.4,"o":11.02},{"e":9.45,"o":11.11},{"e":9.5,"o":11.2},{"e":9.55,"o":11.28},{"e":9.6,"o":11.36},{"e":9.65,"o":11.44},
{"e":9.7,"o":11.52},{"e":9.75,"o":11.6},{"e":9.8,"o":11.68},{"e":9.85,"o":11.76},{"e":9.9,"o":11.84},{"e":9.95,"o":11.92},{"e":10.0,"o":12.0},{"e":10.05,"o":12.09},{"e":10.1,"o":12.18},{"e":10.15,"o":12.27},
{"e":10.2,"o":12.36},{"e":10.25,"o":12.45},{"e":10.3,"o":12.54},{"e":10.35,"o":12.63},{"e":10.4,"o":12.72},{"e":10.45,"o":12.81},{"e":10.5,"o":12.9},{"e":10.55,"o":13.02},{"e":10.6,"o":13.13},{"e":10.65,"o":13.25},
{"e":10.7,"o":13.37},{"e":10.75,"o":13.48},{"e":10.8,"o":13.6},{"e":10.85,"o":13.75},{"e":10.9,"o":13.9},{"e":10.95,"o":14.05},{"e":11.0,"o":14.2},{"e":11.05,"o":14.32},{"e":11.1,"o":14.43},{"e":11.15,"o":14.55},
{"e":11.2,"o":14.67},{"e":11.25,"o":14.78},{"e":11.3,"o":14.9},{"e":11.35,"o":15.0},{"e":11.4,"o":15.1},{"e":11.45,"o":15.2},{"e":11.5,"o":15.3},{"e":11.55,"o":15.4},{"e":11.6,"o":15.5},{"e":11.65,"o":15.62},
{"e":11.7,"o":15.73},{"e":11.75,"o":15.85},{"e":11.8,"o":15.97},{"e":11.85,"o":16.08},{"e":11.9,"o":16.2},{"e":11.95,"o":16.35},{"e":12.0,"o":16.5},{"e":12.05,"o":16.65},{"e":12.1,"o":16.8},{"e":12.15,"o":16.95},
{"e":12.2,"o":17.1},{"e":12.25,"o":17.29},{"e":12.3,"o":17.48},{"e":12.35,"o":17.66},{"e":12.4,"o":17.85},{"e":12.5,"o":18.1},{"e":12.6,"o":18.4},{"e":12.68,"o":18.8},{"e":12.76,"o":19.17},{"e":12.85,"o":19.4},
{"e":12.95,"o":19.55},{"e":13.05,"o":19.68},{"e":13.12,"o":20.05},{"e":13.2,"o":20.45},{"e":13.28,"o":20.7},{"e":13.37,"o":20.97},{"e":13.46,"o":21.2},{"e":13.56,"o":21.4},{"e":13.66,"o":21.63},{"e":13.74,"o":21.95},
{"e":13.81,"o":22.29},{"e":13.9,"o":22.5},{"e":13.99,"o":22.7},{"e":14.08,"o":22.92},{"e":14.18,"o":23.05},{"e":14.28,"o":23.18},{"e":14.37,"o":23.31},{"e":14.47,"o":23.58},{"e":14.58,"o":23.85},{"e":14.66,"o":24.17},
{"e":14.74,"o":24.48},{"e":14.85,"o":24.8},{"e":14.95,"o":25.14},{"e":15.03,"o":25.4},{"e":15.11,"o":25.65},{"e":15.2,"o":25.98},{"e":15.29,"o":26.31},{"e":15.37,"o":26.5},{"e":15.45,"o":26.7},{"e":15.55,"o":26.9},
{"e":15.66,"o":27.09},{"e":15.8,"o":27.28},{"e":15.95,"o":27.48},{"e":16.05,"o":27.74},{"e":16.16,"o":27.99},{"e":16.27,"o":28.3},{"e":16.37,"o":28.57},{"e":16.5,"o":28.75},{"e":16.64,"o":28.92},{"e":16.8,"o":29.12},
{"e":16.98,"o":29.35},{"e":17.14,"o":29.5},{"e":17.3,"o":29.62},{"e":17.51,"o":29.86},{"e":17.8,"o":29.93},{"e":18.06,"o":30.05},{"e":18.35,"o":30.09},{"e":18.59,"o":30.32},{"e":18.94,"o":30.32},{"e":19.3,"o":30.44},
{"e":19.8,"o":30.52},{"e":20.47,"o":30.6},{"e":21.44,"o":30.64},{"e":23.4,"o":30.79}
]
},
"layer": [
{"data": {"values": [{}]}, "mark": {"type": "rect", "fill": "#ECE9D8"},
 "encoding": {"x": {"datum": -263.6, "type": "quantitative", "scale": {"domain": [0, 3013], "range": [111.3, 1117], "nice": false, "zero": false}, "axis": null}, "x2": {"datum": 3067}, "y": {"datum": -3.86, "type": "quantitative", "scale": {"domain": [0, 15], "range": [389, 74.2], "nice": false, "zero": false}, "axis": null}, "y2": {"datum": 17.34}}},
{"data": {"values": [{}]}, "mark": {"type": "rect", "fill": "#FFFFFF", "stroke": "#6E6E6E", "strokeWidth": 1.5},
 "encoding": {"x": {"datum": -257.3, "type": "quantitative", "scale": {"domain": [0, 3013], "range": [111.3, 1117], "nice": false, "zero": false}, "axis": null}, "x2": {"datum": 3041.7}, "y": {"datum": -3.74, "type": "quantitative", "scale": {"domain": [0, 15], "range": [389, 74.2], "nice": false, "zero": false}, "axis": null}, "y2": {"datum": -0.353}}},
{"data": {"values": [{}]}, "mark": {"type": "rule", "stroke": "#1A3FD6", "strokeWidth": 3},
 "encoding": {"x": {"datum": -263.6, "type": "quantitative", "scale": {"domain": [0, 3013], "range": [111.3, 1117], "nice": false, "zero": false}, "axis": null}, "x2": {"datum": 3067}, "y": {"datum": -3.84, "type": "quantitative", "scale": {"domain": [0, 15], "range": [389, 74.2], "nice": false, "zero": false}, "axis": null}}},
{"data": {"values": [{}]}, "mark": {"type": "rect", "fill": "#FFFFFF"},
 "encoding": {"x": {"datum": 0, "type": "quantitative", "scale": {"domain": [0, 3013], "range": [111.3, 1117], "nice": false, "zero": false}, "axis": null}, "x2": {"datum": 3013}, "y": {"datum": 0, "type": "quantitative", "scale": {"domain": [0, 15], "range": [389, 74.2], "nice": false, "zero": false}, "axis": null}, "y2": {"datum": 15}}},
{"data": {"name": "mgrid"}, "mark": {"type": "rule", "stroke": "#A6A6A6", "strokeWidth": 1.2, "strokeDash": [2, 2]},
 "encoding": {"y": {"field": "g", "type": "quantitative", "scale": {"domain": [0, 15], "range": [389, 74.2], "nice": false, "zero": false}, "axis": null}, "x": {"datum": 0, "type": "quantitative", "scale": {"domain": [0, 3013], "range": [111.3, 1117], "nice": false, "zero": false}, "axis": null}, "x2": {"datum": 3013}}},
{"data": {"name": "seg"}, "mark": {"type": "rect"},
 "encoding": {
  "x": {"field": "s", "type": "quantitative", "scale": {"domain": [0, 3013], "range": [111.3, 1117], "nice": false, "zero": false}, "axis": null},
  "x2": {"field": "e"},
  "y": {"field": "h", "type": "quantitative", "scale": {"domain": [0, 15], "range": [389, 74.2], "nice": false, "zero": false}, "axis": null},
  "y2": {"datum": 0},
  "color": {"field": "chr", "type": "nominal",
   "scale": {"domain": ["Chr1","Chr2","Chr3","Chr4","Chr5","Chr6","Chr7","Chr8","Chr9","Chr10","Chr11","Chr12","Chr13","Chr14","Chr15","Chr16","Chr17","Chr18","Chr19","Chr20","Chr21","Chr22"],
             "range": ["#FF5050","#5050FF","#FF50FF","#FFAAAA","#888888","#C80000","#0000C8","#00C800","#C8C800","#C800C8","#00C8C8","#404040","#FF4040","#4040FF","#FF40FF","#C0C0C0","#800000","#000080","#008000","#808000","#800080","#008080"]},
   "legend": {"orient": "none", "legendX": 30, "legendY": 433, "direction": "horizontal", "values": ["Chr13","Chr14","Chr15","Chr16","Chr17","Chr18","Chr19","Chr20","Chr21","Chr22"], "title": null, "padding": 0, "symbolType": "M-1,-0.2H1V0.2H-1Z", "symbolSize": 900, "symbolStrokeWidth": 0, "symbolOpacity": 1, "symbolOffset": 0, "labelFont": "Liberation Sans", "labelFontSize": 17.5, "labelColor": "#222222", "labelOffset": 6.4, "columnPadding": 9.2}}
 }},
{"data": {"name": "spk"}, "mark": {"type": "rule", "strokeWidth": 1.2},
 "encoding": {
  "x": {"field": "pos", "type": "quantitative", "scale": {"domain": [0, 3013], "range": [111.3, 1117], "nice": false, "zero": false}, "axis": null},
  "y": {"field": "top", "type": "quantitative", "scale": {"domain": [0, 15], "range": [389, 74.2], "nice": false, "zero": false}, "axis": null},
  "y2": {"datum": 0},
  "color": {"field": "chr", "type": "nominal", "legend": null,
   "scale": {"domain": ["Chr1","Chr2","Chr3","Chr4","Chr5","Chr6","Chr7","Chr8","Chr9","Chr10","Chr11","Chr12","Chr13","Chr14","Chr15","Chr16","Chr17","Chr18","Chr19","Chr20","Chr21","Chr22"],
             "range": ["#FF5050","#5050FF","#FF50FF","#FFAAAA","#888888","#C80000","#0000C8","#00C800","#C8C800","#C800C8","#00C8C8","#404040","#FF4040","#4040FF","#FF40FF","#C0C0C0","#800000","#000080","#008000","#808000","#800080","#008080"]}}
 }},
{"data": {"values": [{}]}, "mark": {"type": "rule", "stroke": "#FF0000", "strokeWidth": 1.6},
 "encoding": {"y": {"datum": 6.3, "type": "quantitative", "scale": {"domain": [0, 15], "range": [389, 74.2], "nice": false, "zero": false}, "axis": null}, "x": {"datum": 0, "type": "quantitative", "scale": {"domain": [0, 3013], "range": [111.3, 1117], "nice": false, "zero": false}, "axis": null}, "x2": {"datum": 3013}}},
{"data": {"name": "snp"}, "mark": {"type": "point", "shape": "square", "filled": true, "opacity": 1, "strokeWidth": 0},
 "encoding": {
  "x": {"field": "pos", "type": "quantitative", "scale": {"domain": [0, 3013], "range": [111.3, 1117], "nice": false, "zero": false}, "axis": null},
  "y": {"field": "p", "type": "quantitative", "scale": {"domain": [0, 15], "range": [389, 74.2], "nice": false, "zero": false},
        "axis": {"orient": "left", "offset": -111.3, "zindex": 2, "values": [0, 2.5, 5, 7.5, 10, 12.5, 15], "format": ".1f", "domain": false, "grid": false, "tickSize": 5, "tickColor": "#7A7A7A", "labelFont": "Liberation Sans", "labelFontSize": 13, "labelColor": "#222222", "labelPadding": 5, "labelFlush": false, "labelOverlap": false, "title": "-log10(P)", "titleFont": "Liberation Sans", "titleFontSize": 16, "titleFontWeight": "normal", "titleColor": "#222222", "titleAngle": -90, "titleX": -58, "titleY": 228, "titleAlign": "center", "titleBaseline": "alphabetic"}},
  "color": {"field": "chr", "type": "nominal",
   "scale": {"domain": ["Chr1","Chr2","Chr3","Chr4","Chr5","Chr6","Chr7","Chr8","Chr9","Chr10","Chr11","Chr12","Chr13","Chr14","Chr15","Chr16","Chr17","Chr18","Chr19","Chr20","Chr21","Chr22"],
             "range": ["#FF5050","#5050FF","#FF50FF","#FFAAAA","#888888","#C80000","#0000C8","#00C800","#C8C800","#C800C8","#00C8C8","#404040","#FF4040","#4040FF","#FF40FF","#C0C0C0","#800000","#000080","#008000","#808000","#800080","#008080"]},
   "legend": {"orient": "none", "legendX": 30, "legendY": 398.3, "direction": "horizontal", "values": ["Chr1","Chr2","Chr3","Chr4","Chr5","Chr6","Chr7","Chr8","Chr9","Chr10","Chr11","Chr12"], "title": null, "padding": 0, "symbolType": "M-1,-0.2H1V0.2H-1Z", "symbolSize": 900, "symbolStrokeWidth": 0, "symbolOpacity": 1, "symbolOffset": 0, "labelFont": "Liberation Sans", "labelFontSize": 17.5, "labelColor": "#222222", "labelOffset": 6.4, "columnPadding": 9.3}},
  "size": {"condition": {"test": "datum.p > 6.3", "value": 36}, "value": 9}}},
{"data": {"values": [{}]}, "mark": {"type": "rule", "stroke": "#8C8C8C", "strokeWidth": 2},
 "encoding": {"x": {"datum": 0, "type": "quantitative", "scale": {"domain": [0, 3013], "range": [111.3, 1117], "nice": false, "zero": false}, "axis": null}, "y": {"datum": 0, "type": "quantitative", "scale": {"domain": [0, 15], "range": [389, 74.2], "nice": false, "zero": false}, "axis": null}, "y2": {"datum": 15}}},
{"data": {"values": [{}]}, "mark": {"type": "rule", "stroke": "#9A9A9A", "strokeWidth": 2},
 "encoding": {"x": {"datum": 3013, "type": "quantitative", "scale": {"domain": [0, 3013], "range": [111.3, 1117], "nice": false, "zero": false}, "axis": null}, "y": {"datum": 0, "type": "quantitative", "scale": {"domain": [0, 15], "range": [389, 74.2], "nice": false, "zero": false}, "axis": null}, "y2": {"datum": 15}}},
{"data": {"values": [{}]}, "mark": {"type": "rule", "stroke": "#5A5A5A", "strokeWidth": 2.5},
 "encoding": {"y": {"datum": 0, "type": "quantitative", "scale": {"domain": [0, 15], "range": [389, 74.2], "nice": false, "zero": false}, "axis": null}, "x": {"datum": 0, "type": "quantitative", "scale": {"domain": [0, 3013], "range": [111.3, 1117], "nice": false, "zero": false}, "axis": null}, "x2": {"datum": 3013}}},
{"data": {"values": [{}]}, "mark": {"type": "text", "text": "Genome-wide Manhattan plot for dominant model", "font": "Liberation Sans", "fontSize": 27, "fontWeight": "bold", "align": "center", "baseline": "alphabetic", "color": "#111111"},
 "encoding": {"x": {"datum": 1390.7, "type": "quantitative", "scale": {"domain": [0, 3013], "range": [111.3, 1117], "nice": false, "zero": false}, "axis": null}, "y": {"datum": 15.9, "type": "quantitative", "scale": {"domain": [0, 15], "range": [389, 74.2], "nice": false, "zero": false}, "axis": null}}},
{"data": {"values": [{}]}, "mark": {"type": "rule", "stroke": "#000000", "strokeWidth": 2.6},
 "encoding": {"x": {"datum": -4.82, "type": "quantitative", "scale": {"domain": [-0.979, 24.31], "range": [151.5, 1109.6], "nice": false, "zero": false}, "axis": null}, "x2": {"datum": 25.5}, "y": {"datum": 54.88, "type": "quantitative", "scale": {"domain": [-1.24, 32.11], "range": [1446.6, 591.4], "nice": false, "zero": false}, "axis": null}}},
{"data": {"values": [{}]}, "mark": {"type": "rule", "stroke": "#000000", "strokeWidth": 2.6},
 "encoding": {"x": {"datum": -4.82, "type": "quantitative", "scale": {"domain": [-0.979, 24.31], "range": [151.5, 1109.6], "nice": false, "zero": false}, "axis": null}, "y": {"datum": 54.88, "type": "quantitative", "scale": {"domain": [-1.24, 32.11], "range": [1446.6, 591.4], "nice": false, "zero": false}, "axis": null}, "y2": {"datum": -10}}},
{"data": {"values": [{}]}, "mark": {"type": "rule", "stroke": "#000000", "strokeWidth": 2.6},
 "encoding": {"x": {"datum": -4.82, "type": "quantitative", "scale": {"domain": [-0.979, 24.31], "range": [151.5, 1109.6], "nice": false, "zero": false}, "axis": null}, "x2": {"datum": 25.5}, "y": {"datum": 36.12, "type": "quantitative", "scale": {"domain": [-1.24, 32.11], "range": [1446.6, 591.4], "nice": false, "zero": false}, "axis": null}}},
{"data": {"values": [{}]}, "mark": {"type": "rule", "stroke": "#000000", "strokeWidth": 2.6},
 "encoding": {"x": {"datum": -4.82, "type": "quantitative", "scale": {"domain": [-0.979, 24.31], "range": [151.5, 1109.6], "nice": false, "zero": false}, "axis": null}, "x2": {"datum": 25.5}, "y": {"datum": -6.95, "type": "quantitative", "scale": {"domain": [-1.24, 32.11], "range": [1446.6, 591.4], "nice": false, "zero": false}, "axis": null}}},
{"data": {"name": "qtl"}, "mark": {"type": "rule", "strokeWidth": 1.5, "strokeDash": [7, 4.5]},
 "encoding": {"x": {"field": "v", "type": "quantitative", "scale": {"domain": [-0.979, 24.31], "range": [151.5, 1109.6], "nice": false, "zero": false}, "axis": null}, "y": {"datum": -1.24, "type": "quantitative", "scale": {"domain": [-1.24, 32.11], "range": [1446.6, 591.4], "nice": false, "zero": false}, "axis": null}, "y2": {"datum": 32.11},
  "color": {"field": "q", "type": "nominal", "scale": {"domain": ["50","75","90","95","99","99.9"], "range": ["#FF4D4D","#FFA533","#F2F200","#33E033","#2020FF","#A64DFF"]},
   "legend": {"orient": "none", "legendX": 925, "legendY": 1181.8, "direction": "vertical", "padding": 0, "title": "Quantile", "titleFont": "Liberation Serif", "titleFontSize": 25, "titleFontWeight": "bold", "titleColor": "#111111", "titlePadding": 12, "titleAnchor": "start", "symbolType": "M-5,0H5", "symbolSize": 240, "symbolStrokeWidth": 1.6, "symbolDash": [7, 4.5], "symbolOffset": 18, "labelOffset": 37.3, "labelFont": "Liberation Serif", "labelFontSize": 27, "labelColor": "#111111", "rowPadding": 4.8}}}},
{"data": {"name": "env"}, "mark": {"type": "line", "stroke": "#333333", "strokeWidth": 1.3, "strokeDash": [6, 5]},
 "encoding": {"x": {"field": "e", "type": "quantitative", "scale": {"domain": [-0.979, 24.31], "range": [151.5, 1109.6], "nice": false, "zero": false}, "axis": null}, "y": {"field": "c", "type": "quantitative", "scale": {"domain": [-1.24, 32.11], "range": [1446.6, 591.4], "nice": false, "zero": false}, "axis": null}, "detail": {"field": "b", "type": "nominal"}}},
{"data": {"name": "fit"}, "mark": {"type": "line", "stroke": "#000000", "strokeWidth": 2.6},
 "encoding": {"x": {"field": "e", "type": "quantitative", "scale": {"domain": [-0.979, 24.31], "range": [151.5, 1109.6], "nice": false, "zero": false}, "axis": null}, "y": {"field": "f", "type": "quantitative", "scale": {"domain": [-1.24, 32.11], "range": [1446.6, 591.4], "nice": false, "zero": false}, "axis": null}}},
{"data": {"name": "obs"}, "mark": {"type": "point", "shape": "circle", "filled": false, "stroke": "#000000", "strokeWidth": 1.6, "size": 95, "opacity": 1},
 "encoding": {
  "x": {"field": "e", "type": "quantitative", "scale": {"domain": [-0.979, 24.31], "range": [151.5, 1109.6], "nice": false, "zero": false},
        "axis": {"orient": "bottom", "offset": -214.4, "values": [0, 5, 10, 15, 20], "domain": false, "grid": false, "tickSize": 14, "tickColor": "#333333", "tickWidth": 1.4, "labelFont": "Liberation Sans", "labelFontSize": 27, "labelColor": "#333333", "labelPadding": 49.8, "labelBaseline": "alphabetic", "labelFlush": false, "labelOverlap": false, "title": "Expected chi-squared value", "titleFont": "Liberation Sans", "titleFontSize": 27, "titleFontWeight": "normal", "titleColor": "#333333", "titleX": 630.5, "titleY": 129.5, "titleAlign": "center", "titleBaseline": "alphabetic"}},
  "y": {"field": "o", "type": "quantitative", "scale": {"domain": [-1.24, 32.11], "range": [1446.6, 591.4], "nice": false, "zero": false},
        "axis": {"orient": "left", "offset": -151.5, "values": [0, 5, 10, 15, 20, 25, 30], "domain": false, "grid": false, "tickSize": 14, "tickColor": "#333333", "tickWidth": 1.4, "labelFont": "Liberation Sans", "labelFontSize": 27, "labelColor": "#333333", "labelAngle": -90, "labelAlign": "center", "labelBaseline": "alphabetic", "labelPadding": 21.8, "labelFlush": false, "labelOverlap": false, "title": "Observed test statistic", "titleFont": "Liberation Sans", "titleFontSize": 27, "titleFontWeight": "normal", "titleColor": "#333333", "titleAngle": -90, "titleX": -99.4, "titleY": 1019.5, "titleAlign": "center", "titleBaseline": "alphabetic"}}
 }},
{"data": {"values": [{}]}, "mark": {"type": "rect", "fill": "transparent", "stroke": "#222222", "strokeWidth": 1.4},
 "encoding": {"x": {"datum": -0.979, "type": "quantitative", "scale": {"domain": [-0.979, 24.31], "range": [151.5, 1109.6], "nice": false, "zero": false}, "axis": null}, "x2": {"datum": 24.31}, "y": {"datum": -1.24, "type": "quantitative", "scale": {"domain": [-1.24, 32.11], "range": [1446.6, 591.4], "nice": false, "zero": false}, "axis": null}, "y2": {"datum": 32.11}}},
{"data": {"values": [{}]}, "mark": {"type": "text", "text": "QQ plot for dominant model", "font": "Liberation Sans", "fontSize": 33, "fontWeight": "bold", "align": "center", "baseline": "alphabetic", "color": "#111111"},
 "encoding": {"x": {"datum": 11.667, "type": "quantitative", "scale": {"domain": [-0.979, 24.31], "range": [151.5, 1109.6], "nice": false, "zero": false}, "axis": null}, "y": {"datum": 34.17, "type": "quantitative", "scale": {"domain": [-1.24, 32.11], "range": [1446.6, 591.4], "nice": false, "zero": false}, "axis": null}}},
{"data": {"values": [{}]}, "mark": {"type": "text", "text": "Figure 9. QQ plot and Genome-wide Manhattan plot for dominant model", "font": "Liberation Serif", "fontSize": 32, "align": "left", "baseline": "alphabetic", "color": "#000000"},
 "encoding": {"x": {"datum": -4.476, "type": "quantitative", "scale": {"domain": [-0.979, 24.31], "range": [151.5, 1109.6], "nice": false, "zero": false}, "axis": null}, "y": {"datum": -8.84, "type": "quantitative", "scale": {"domain": [-1.24, 32.11], "range": [1446.6, 591.4], "nice": false, "zero": false}, "axis": null}}}
]
}
